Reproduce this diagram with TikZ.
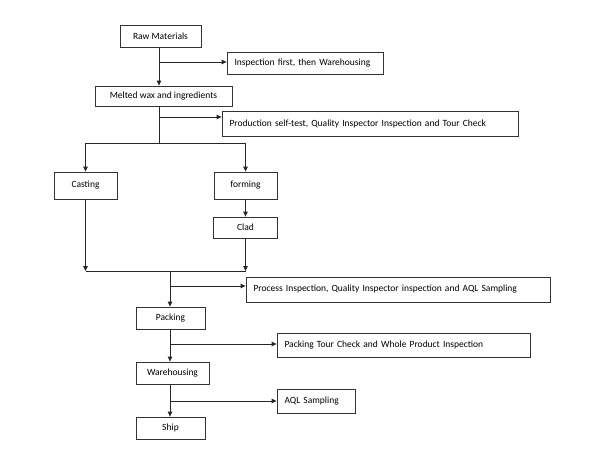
\documentclass[tikz,border=0pt]{standalone}
\usepackage{fontspec}
\setmainfont{Carlito}
\usetikzlibrary{arrows.meta}
\begin{document}
\begin{tikzpicture}[x=1pt,y=-1pt,
  box/.style={draw=black!80,line width=0.8pt,inner sep=0pt,font=\fontsize{9.5}{11}\selectfont},
  cbox/.style={box,align=center},
  lbox/.style={box,inner xsep=7.5pt,align=left},
  ln/.style={draw=black!85,line width=0.9pt},
  arr/.style={ln,-{Triangle[length=5pt,width=4.5pt]}}]
\useasboundingbox[fill=white] (0,0) rectangle (600,455);
% boxes
\node[cbox,minimum width=81pt,minimum height=22pt] (raw) at (160.5,36) {Raw Materials};
\node[lbox,text width=141pt,minimum height=22pt] (insp) at (305,63) {Inspection first, then Warehousing};
\node[cbox,minimum width=137pt,minimum height=20pt] (melt) at (163.5,96) {Melted wax and ingredients};
\node[lbox,text width=281pt,minimum height=25pt] (prod) at (370,123.5) {Production self-test, Quality Inspector Inspection and Tour Check};
\node[cbox,minimum width=63pt,minimum height=27pt] (cast) at (85.5,185.5) {Casting};
\node[cbox,minimum width=63pt,minimum height=27pt] (form) at (245.5,185.5) {forming};
\node[cbox,minimum width=64pt,minimum height=21pt] (clad) at (245.5,227.5) {Clad};
\node[lbox,text width=289pt,minimum height=25pt] (proc) at (398,289.5) {Process Inspection, Quality Inspector inspection and AQL Sampling};
\node[cbox,minimum width=69pt,minimum height=22pt] (pack) at (170.5,318) {Packing};
\node[lbox,text width=238pt,minimum height=24pt] (ptc) at (403.5,345) {Packing Tour Check and Whole Product Inspection};
\node[cbox,minimum width=73pt,minimum height=22pt] (ware) at (172.5,373) {Warehousing};
\node[lbox,text width=63pt,minimum height=24pt] (aql) at (316,401) {AQL Sampling};
\node[cbox,minimum width=69pt,minimum height=22pt] (ship) at (170.5,428) {Ship};
% coordinates
\coordinate (b1) at (159,62);
\coordinate (b2) at (159,117);
\coordinate (split) at (159,143);
\coordinate (merge) at (170,271);
\coordinate (b3) at (170,286);
\coordinate (b4) at (170,344);
\coordinate (b5) at (170,401);
% connectors
\draw[arr] (b1 |- raw.south) -- (b1 |- melt.north);
\draw[arr] (b1) -- (b1 -| insp.west);
\draw[ln] (b2 |- melt.south) -- (split);
\draw[arr] (b2) -- (b2 -| prod.west);
\draw[ln] (split -| cast) -- (split -| form);
\draw[arr] (split -| cast) -- (cast.north);
\draw[arr] (split -| form) -- (form.north);
\draw[arr] (form.south) -- (clad.north);
\draw[arr] (cast.south) -- (cast.south |- merge);
\draw[arr] (clad.south) -- (clad.south |- merge);
\draw[ln] (cast.south |- merge) -- (clad.south |- merge);
\draw[arr] (merge) -- (merge |- pack.north);
\draw[arr] (b3) -- (b3 -| proc.west);
\draw[arr] (b4 |- pack.south) -- (b4 |- ware.north);
\draw[arr] (b4) -- (b4 -| ptc.west);
\draw[arr] (b5 |- ware.south) -- (b5 |- ship.north);
\draw[arr] (b5) -- (b5 -| aql.west);
\end{tikzpicture}
\end{document}
